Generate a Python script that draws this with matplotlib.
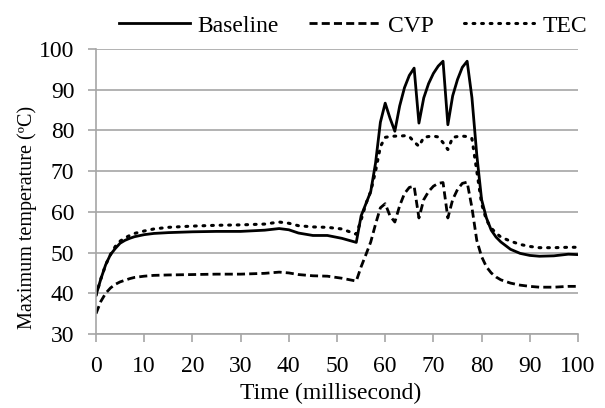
import matplotlib
matplotlib.use("Agg")
import matplotlib.pyplot as plt

plt.rcParams['font.family'] = ['Liberation Serif', 'DejaVu Serif']

# time axis (ms), finer where the spikes are
time = [0, 1, 2, 3, 4, 5, 6, 7, 8, 10, 12, 15, 20, 25, 30, 35, 38, 40, 42, 45, 48, 51, 54,
        55, 56, 57, 58, 59, 60, 61, 62, 63, 64, 65, 66, 67, 68, 69, 70, 71, 72, 73, 74, 75,
        76, 77, 78, 79, 80, 81, 82, 83, 84, 86, 88, 90, 92, 95, 98, 100]

baseline = [39.5, 43.5, 47, 49.5, 51, 52.3, 53, 53.5, 53.9, 54.4, 54.7, 54.9, 55.1, 55.2, 55.2,
            55.5, 55.9, 55.6, 54.8, 54.2, 54.2, 53.5, 52.5,
            59, 62, 65, 72, 82, 86.7, 83, 79.8, 86, 90.5, 93.5, 95.3, 81.8, 88, 91.5, 94, 95.8,
            97, 81.4, 88.5, 92.5, 95.5, 97, 88, 74, 63, 58.5, 55.5, 53.8, 52.6, 50.8, 49.8,
            49.3, 49.1, 49.2, 49.6, 49.5]

cvp = [35, 38, 40, 41.3, 42.2, 42.8, 43.2, 43.6, 43.9, 44.2, 44.4, 44.5, 44.6, 44.7, 44.7,
       44.9, 45.2, 45, 44.6, 44.3, 44.2, 43.7, 43,
       46.5, 49.5, 52.6, 57, 61, 62, 59, 57.5, 61.5, 64.5, 66, 66.3, 58.5, 63, 65, 66.3, 67,
       67.2, 58.5, 63, 65.5, 67, 67.3, 61, 53, 49, 46.5, 45, 44, 43.3, 42.5, 42,
       41.7, 41.5, 41.5, 41.7, 41.7]

tec = [39.5, 43.5, 47, 49.5, 51.5, 52.8, 53.6, 54.2, 54.7, 55.3, 55.8, 56.2, 56.5, 56.7, 56.8,
       57, 57.5, 57.2, 56.6, 56.3, 56.2, 55.8, 54.5,
       58, 62, 65, 70, 76, 78.3, 78.5, 78.6, 78.6, 78.7, 78.5, 77.2, 76.1, 78.3, 78.5, 78.6,
       78.4, 77, 75.3, 78.3, 78.5, 78.6, 78.5, 78, 70, 62, 58, 56, 54.8, 53.8, 52.8, 52,
       51.5, 51.2, 51.2, 51.3, 51.3]

grid_col = '#a6a6a6'
fs = 17

fig = plt.figure(figsize=(6.05, 4.08), dpi=100)
ax = fig.add_axes([96 / 605, 1 - 334 / 408, (578 - 96) / 605, (334 - 49) / 408])

ax.plot(time, baseline, color='black', lw=2, label='Baseline')
ax.plot(time, cvp, color='black', lw=2, dashes=(2.9, 1.5), label='CVP')
ax.plot(time, tec, color='black', lw=2.2, linestyle=(0, (0.6, 2.2)),
        dash_capstyle='round', label='TEC')

ax.set_xlim(0, 100)
ax.set_ylim(30, 100)
ax.set_xticks(range(0, 101, 10))
ax.set_yticks(range(30, 101, 10))
ax.yaxis.grid(True, color=grid_col, lw=1.2)
ax.set_axisbelow(True)

for s in ['top', 'right']:
    ax.spines[s].set_visible(False)
for s in ['left', 'bottom']:
    ax.spines[s].set_color(grid_col)
    ax.spines[s].set_linewidth(1.2)
ax.tick_params(axis='both', direction='out', length=5.5, width=1.2, color=grid_col,
               labelsize=fs)
ax.tick_params(axis='y', pad=10)
ax.tick_params(axis='x', pad=10)

ax.set_xlabel('Time (millisecond)', fontsize=fs)
ax.xaxis.set_label_coords(0.487, -0.17)
ax.set_ylabel('Maximum temperature (ºC)', fontsize=14.5)
ax.yaxis.set_label_coords(-0.122, 0.41)

ax.legend(loc='lower center', bbox_to_anchor=(0.533, 0.985), ncol=3, frameon=False,
          fontsize=fs, handlelength=3.0, columnspacing=1.27, handletextpad=0.34,
          borderaxespad=0.3)

fig.savefig('out.png', dpi=100)
